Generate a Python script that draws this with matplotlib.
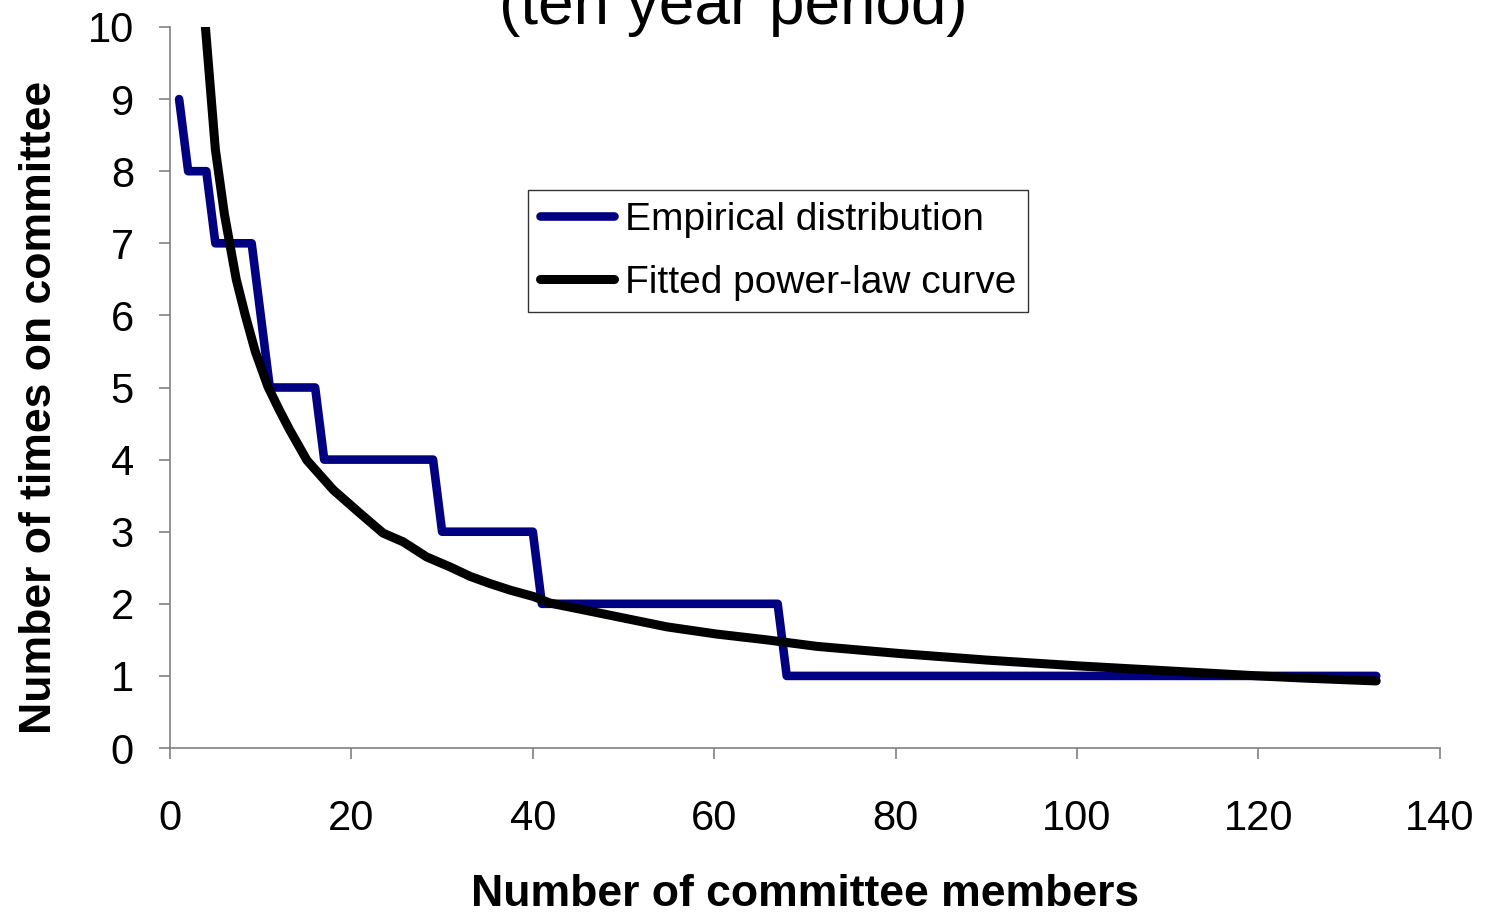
import numpy as np
import matplotlib
matplotlib.use('Agg')
import matplotlib.pyplot as plt

plt.rcParams['font.family'] = ['Liberation Sans', 'DejaVu Sans']

# empirical distribution: times on committee, members ranked 1..133
emp_y = ([9] + [8] * 3 + [7] * 5 + [6] + [5] * 6 + [4] * 13 + [3] * 11
         + [2] * 27 + [1] * 66)
emp_x = list(range(1, len(emp_y) + 1))

# fitted power-law curve
fit_x = [3, 3.9, 5, 6, 7.3, 8.3, 9.4, 10.8, 12, 13.2, 15.1, 18.0, 20.9, 23.5,
         25.7, 28.3, 30.9, 33.1, 35.3, 37.5, 40.1, 41.9, 47.4, 54.8, 60.3,
         65.8, 71.3, 76.8, 80.5, 90, 100, 110, 120, 125, 133]
fit_y = [12.3, 10.0, 8.3, 7.4, 6.5, 6.0, 5.5, 5.01, 4.7, 4.41, 3.99, 3.58,
         3.26, 2.98, 2.86, 2.65, 2.51, 2.38, 2.28, 2.19, 2.10, 2.01, 1.87,
         1.68, 1.58, 1.50, 1.41, 1.35, 1.31, 1.22, 1.14, 1.07, 1.00, 0.97,
         0.93]

fig = plt.figure(figsize=(14.85, 9.15), dpi=100)
ax = fig.add_axes([0.1145, 0.1825, 0.855, 0.788])

ax.plot(emp_x, emp_y, color='#000080', lw=6.2, solid_joinstyle='round',
        solid_capstyle='round', label='Empirical distribution')
ax.plot(fit_x, fit_y, color='black', lw=6.5, solid_joinstyle='round',
        solid_capstyle='round', label='Fitted power-law curve')

ax.set_xlim(0, 140)
ax.set_ylim(0, 10)
ax.set_xticks(np.arange(0, 141, 20))
ax.set_yticks(np.arange(0, 11, 1))
for s in ['top', 'right']:
    ax.spines[s].set_visible(False)
for s in ['left', 'bottom']:
    ax.spines[s].set_color('#808080')
    ax.spines[s].set_linewidth(1.2)
ax.tick_params(axis='both', direction='out', length=8, width=1.2,
               color='#808080', labelsize=30)
ax.tick_params(axis='x', pad=29)
ax.tick_params(axis='y', pad=18)

ax.set_xlabel('Number of committee members', fontsize=32, fontweight='bold',
              labelpad=25)
ax.set_ylabel('Number of times on committee', fontsize=32, fontweight='bold')
ax.yaxis.set_label_coords(-0.087, 0.473)

fig.text(0.494, 0.974, '(ten year period)', fontsize=46, ha='center',
         va='baseline')

leg = ax.legend(loc='upper left', bbox_to_anchor=(0.282, 0.774),
                borderaxespad=0, fontsize=28, frameon=True, fancybox=False,
                edgecolor='black', handlelength=1.9, handletextpad=0.3,
                labelspacing=0.7, borderpad=0.3)
leg.get_frame().set_linewidth(1.0)

fig.savefig('out.png', dpi=100)
